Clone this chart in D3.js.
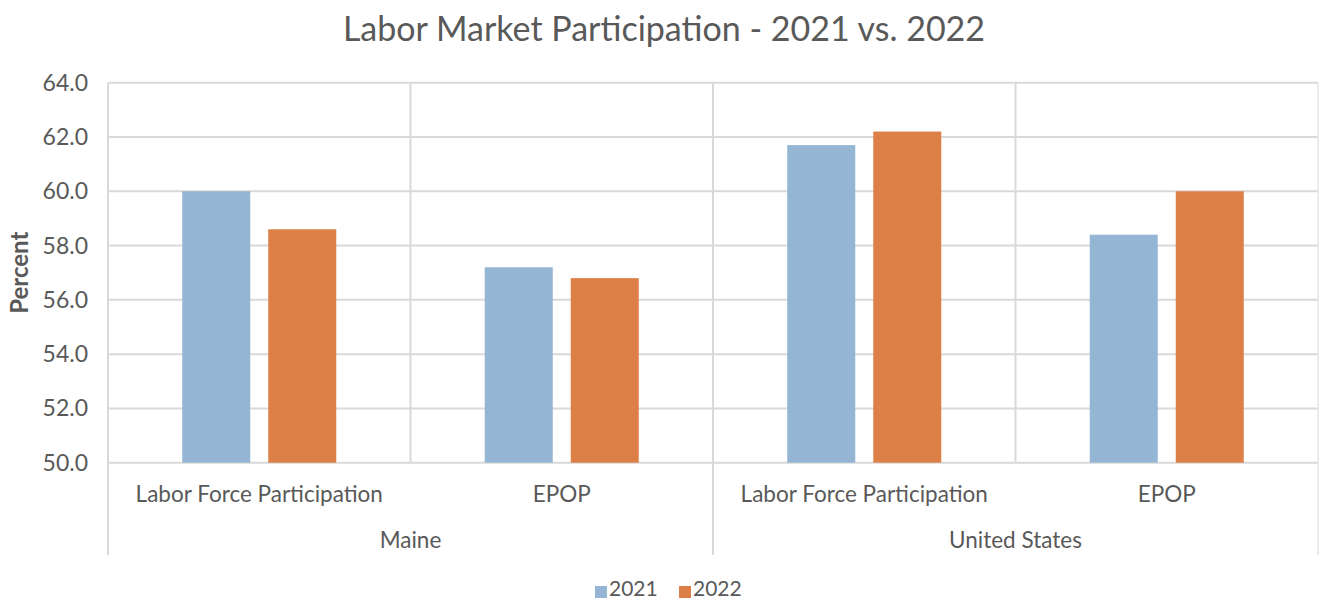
<!DOCTYPE html>
<html>
<head>
<meta charset="utf-8">
<script src="https://cdn.jsdelivr.net/npm/d3@7"></script>
<style>
  html, body { margin: 0; padding: 0; background: #fff; }
  svg text { font-family: Lato, "Open Sans", sans-serif; fill: #595959; }
</style>
</head>
<body>
<svg id="chart" width="1319" height="601"></svg>
<script>
const title = "Labor Market Participation - 2021 vs. 2022";
const yAxisLabel = "Percent";
const groups = ["Maine", "United States"];
const measures = ["Labor Force Participation", "EPOP"];
const years = ["2021", "2022"];
const values2021 = [60.0, 57.2, 61.7, 58.4];
const values2022 = [58.6, 56.8, 62.2, 60.0];
const yTicks = [50, 52, 54, 56, 58, 60, 62, 64];
const colors = ["#94b5d3", "#dd8047"];

const svg = d3.select("#chart");
const pLeft = 108, pRight = 1318, pTop = 82.7, pBottom = 462.7, axisBottom = 555;

const cats = [];
groups.forEach((g, gi) => measures.forEach((m, mi) => cats.push({ key: g + "|" + m, group: g, measure: m, i: gi * measures.length + mi })));
const seriesVals = [values2021, values2022];

const x0 = d3.scaleBand().domain(cats.map(d => d.key)).range([pLeft, pRight]).paddingInner(0).paddingOuter(0);
const x1 = d3.scaleBand().domain(years).range([0, x0.bandwidth()]).paddingInner(0.2093).paddingOuter(0.863);
const y = d3.scaleLinear().domain([50, 64]).range([pBottom, pTop]);
const gx = d3.scaleBand().domain(groups).range([pLeft, pRight]);

// gridlines
svg.append("g").selectAll("line").data(yTicks).join("line")
  .attr("x1", pLeft).attr("x2", pRight)
  .attr("y1", d => y(d)).attr("y2", d => y(d))
  .attr("stroke", "#d9d9d9").attr("stroke-width", 2);

// vertical separators
const seps = cats.slice(1).map(c => ({ x: x0(c.key), groupStart: c.measure === measures[0] }));
svg.append("g").selectAll("line").data(seps).join("line")
  .attr("x1", d => d.x).attr("x2", d => d.x)
  .attr("y1", pTop).attr("y2", d => d.groupStart ? axisBottom : pBottom)
  .attr("stroke", "#d9d9d9").attr("stroke-width", 2);
// outer left/right lines
svg.append("line").attr("x1", pLeft).attr("x2", pLeft).attr("y1", pTop).attr("y2", axisBottom)
  .attr("stroke", "#d9d9d9").attr("stroke-width", 2);
svg.append("line").attr("x1", pRight).attr("x2", pRight).attr("y1", pTop).attr("y2", axisBottom)
  .attr("stroke", "#e6e6e6").attr("stroke-width", 1.5);

// bars
years.forEach((yr, si) => {
  svg.append("g").selectAll("rect").data(cats).join("rect")
    .attr("x", d => x0(d.key) + x1(yr))
    .attr("width", x1.bandwidth())
    .attr("y", d => y(seriesVals[si][d.i]))
    .attr("height", d => pBottom - y(seriesVals[si][d.i]))
    .attr("fill", colors[si]);
});

// y tick labels
svg.append("g").selectAll("text").data(yTicks).join("text")
  .attr("x", 88).attr("y", d => y(d)).attr("dy", "0.35em")
  .attr("text-anchor", "end").style("font-size", "23px")
  .text(d => d.toFixed(1));

// y axis title
svg.append("text")
  .attr("transform", `translate(20,${(pTop + pBottom) / 2}) rotate(-90)`)
  .attr("dy", "0.35em")
  .attr("text-anchor", "middle").style("font-size", "24px").style("font-weight", "bold")
  .text(yAxisLabel);

// category labels
svg.append("g").selectAll("text").data(cats).join("text")
  .attr("x", d => x0(d.key) + x0.bandwidth() / 2).attr("y", 494).attr("dy", "0.35em")
  .attr("text-anchor", "middle").style("font-size", "22.5px")
  .text(d => d.measure);

// group labels
svg.append("g").selectAll("text").data(groups).join("text")
  .attr("x", d => gx(d) + gx.bandwidth() / 2).attr("y", 540).attr("dy", "0.35em")
  .attr("text-anchor", "middle").style("font-size", "22.5px")
  .text(d => d);

// title
svg.append("text").attr("x", 664).attr("y", 29).attr("dy", "0.35em")
  .attr("text-anchor", "middle").style("font-size", "34px")
  .text(title);

// legend
const legendItems = [{ label: years[0], x: 595 }, { label: years[1], x: 679 }];
const lg = svg.append("g").selectAll("g").data(legendItems).join("g");
lg.append("rect").attr("x", d => d.x).attr("y", 586).attr("width", 12).attr("height", 12)
  .attr("fill", (d, i) => colors[i]);
lg.append("text").attr("x", d => d.x + 14).attr("y", 596)
  .style("font-size", "21px").text(d => d.label);
</script>
</body>
</html>
